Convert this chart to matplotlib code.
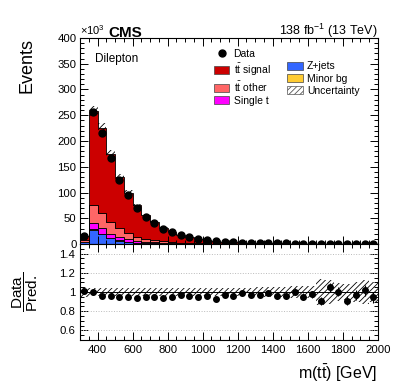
import numpy as np
import matplotlib
matplotlib.use("Agg")
import matplotlib.pyplot as plt
from matplotlib.patches import Patch, Rectangle
from matplotlib.lines import Line2D
from matplotlib.ticker import MultipleLocator, FixedLocator

plt.rcParams['font.family'] = ['Liberation Sans', 'DejaVu Sans']
plt.rcParams['mathtext.fontset'] = 'custom'
plt.rcParams['mathtext.rm'] = 'Liberation Sans'
plt.rcParams['mathtext.it'] = 'Liberation Sans:italic'
plt.rcParams['mathtext.bf'] = 'Liberation Sans:bold'
plt.rcParams['hatch.linewidth'] = 0.6

# bin edges m(tt) in GeV
edges = np.arange(300, 2001, 50)

# events in thousands
data = [16, 257, 216, 167, 124, 95, 70, 53, 40, 30, 22.6, 17.4, 13.2, 10.1,
        7.8, 6.0, 4.6, 3.6, 2.8, 2.25, 1.85, 1.5, 1.22, 1.0, 0.85, 0.72,
        0.62, 0.52, 0.48, 0.42, 0.36, 0.33, 0.31, 0.27]
zjets = [3, 27.7, 19, 11, 6.5, 3.5, 2.5, 1.6, 1.1, 0.8, 0.6, 0.45, 0.33, 0.25,
         0.19, 0.15, 0.11, 0.09, 0.07, 0.055, 0.045, 0.035, 0.03, 0.024, 0.02,
         0.017, 0.015, 0.013, 0.011, 0.01, 0.009, 0.008, 0.007, 0.007]
minor = [0.3, 1, 0.8, 0.6, 0.5, 0.4, 0.3, 0.2, 0.15, 0.12, 0.09, 0.07, 0.05,
         0.04, 0.03, 0.025, 0.02, 0.015, 0.011, 0.009, 0.008, 0.006, 0.005,
         0.004, 0.003, 0.003, 0.002, 0.002, 0.002, 0.002, 0.001, 0.001, 0.001,
         0.001]
single_t = [1.5, 12, 11, 8, 6.5, 5, 3.5, 2.5, 1.8, 1.3, 0.95, 0.7, 0.52, 0.4,
            0.3, 0.24, 0.18, 0.14, 0.1, 0.085, 0.07, 0.055, 0.046, 0.038, 0.03,
            0.027, 0.023, 0.021, 0.016, 0.015, 0.014, 0.012, 0.011, 0.01]
tt_other = [3, 36, 29, 23, 17, 12, 8, 5.5, 3.8, 2.7, 1.9, 1.4, 1.05, 0.8, 0.6,
            0.48, 0.35, 0.28, 0.21, 0.17, 0.14, 0.11, 0.093, 0.076, 0.062,
            0.055, 0.046, 0.042, 0.033, 0.03, 0.029, 0.025, 0.022, 0.021]
tt_signal = [8.0, 181.3, 166.2, 132.4, 100.5, 79.1, 60.7, 46.2, 35.45, 27.08,
             20.26, 15.38, 11.75, 9.11, 6.98, 5.555, 4.11, 3.245, 2.439, 2.011,
             1.644, 1.302, 1.103, 0.905, 0.731, 0.656, 0.55, 0.497, 0.395,
             0.361, 0.343, 0.296, 0.263, 0.247]
# relative uncertainty of the prediction
unc = [0.05, 0.04, 0.04, 0.04, 0.04, 0.04, 0.04, 0.04, 0.04, 0.04, 0.04, 0.04,
       0.04, 0.04, 0.04, 0.04, 0.04, 0.04, 0.045, 0.045, 0.05, 0.055, 0.055,
       0.055, 0.06, 0.06, 0.06, 0.14, 0.12, 0.09, 0.08, 0.1, 0.13, 0.1]

components = [
    ("Z+jets", zjets, "#3366ff"),
    ("Minor bg", minor, "#ffcc33"),
    ("Single t", single_t, "#ff00ff"),
    (r"$\mathrm{t\bar{t}}$ other", tt_other, "#ff6666"),
    (r"$\mathrm{t\bar{t}}$ signal", tt_signal, "#cc0000"),
]

data = np.array(data)
centers = 0.5 * (edges[:-1] + edges[1:])
total = np.sum([np.array(c[1]) for c in components], axis=0)
unc = np.array(unc)
ratio = data / total
ratio_err = np.sqrt(data * 1000) / (total * 1000)
data_err = np.sqrt(data * 1000) / 1000

fig = plt.figure(figsize=(3.99, 3.83), dpi=100)
ax = fig.add_axes([0.2005, 0.3629, 0.7464, 0.5379])
rax = fig.add_axes([0.2005, 0.1123, 0.7464, 0.2506], sharex=ax)

# stacked histogram
base = np.zeros(len(total))
handles = {}
for name, vals, col in components:
    vals = np.array(vals)
    ax.stairs(base + vals, edges, baseline=base, fill=True, facecolor=col,
              edgecolor="black", linewidth=0.6)
    handles[name] = Patch(facecolor=col, edgecolor="#444444", linewidth=0.5)
    base = base + vals

ax.stairs(total * (1 + unc), edges, baseline=total * (1 - unc), fill=True,
          facecolor="none", edgecolor="black", linewidth=0, hatch="//////")
ax.errorbar(centers, data, yerr=data_err, fmt="o", color="black",
            markersize=5, elinewidth=0.8, capsize=0)

ax.set_xlim(300, 2000)
ax.set_ylim(0, 400)
ax.yaxis.set_major_locator(MultipleLocator(50))
ax.yaxis.set_minor_locator(MultipleLocator(10))
ax.xaxis.set_major_locator(MultipleLocator(200))
ax.xaxis.set_minor_locator(MultipleLocator(50))
plt.setp(ax.get_xticklabels(), visible=False)

# ratio panel
rax.stairs(1 + unc, edges, baseline=1 - unc, fill=True, facecolor="none",
           edgecolor="black", linewidth=0, hatch="//////")
for g in [0.6, 0.8, 1.2, 1.4]:
    rax.axhline(g, color="#bbbbbb", linestyle=":", linewidth=0.7)
rax.axhline(1, color="black", linewidth=0.7)
rax.errorbar(centers, ratio, yerr=ratio_err, fmt="o", color="black",
             markersize=4, elinewidth=0.8, capsize=0)
rax.set_ylim(0.5, 1.5)
rax.yaxis.set_major_locator(FixedLocator([0.6, 0.8, 1.0, 1.2, 1.4]))
rax.set_yticklabels(["0.6", "0.8", "1", "1.2", "1.4"])
rax.yaxis.set_minor_locator(MultipleLocator(0.05))

for a in (ax, rax):
    a.tick_params(which="both", direction="in", top=True, right=True,
                  labelsize=8.2, width=0.7)
    a.tick_params(which="major", length=6)
    a.tick_params(which="minor", length=3)
    for s in a.spines.values():
        s.set_linewidth(0.8)
ax.tick_params(axis="y", pad=2.5)

# texts
ax.text(0, 1.005, r"$\times10^{3}$", transform=ax.transAxes, ha="left",
        va="bottom", fontsize=8)
fig.text(108 / 399, 1 - 37 / 383, "CMS", fontsize=11, fontweight="bold",
         ha="left", va="baseline")
fig.text(378 / 399, 1 - 35 / 383, r"138 fb$^{-1}$ (13 TeV)", fontsize=9,
         ha="right", va="baseline")
ax.text(0.05, 0.9, "Dilepton", transform=ax.transAxes, fontsize=8.5,
        ha="left", va="center")
fig.text(27 / 399, 1 - 38 / 383, "Events", rotation=90, ha="center",
         va="top", fontsize=13)
fig.text(25 / 399, 1 - 292 / 383,
         r"$\dfrac{\mathrm{Data}}{\mathrm{Pred.}}$", rotation=90,
         ha="center", va="center", fontsize=11)
fig.text(377 / 399, 1 - 373 / 383, r"m($\mathrm{t\bar{t}}$) [GeV]",
         ha="right", va="center", fontsize=11.5)

# legend
data_h = Line2D([], [], marker="o", color="black", markersize=5,
                linestyle="none")
blank = Rectangle((0, 0), 1, 1, visible=False)
unc_h = Patch(facecolor="white", edgecolor="#555555", hatch="//////",
              linewidth=0.5)
leg_handles = [data_h, handles[r"$\mathrm{t\bar{t}}$ signal"],
               handles[r"$\mathrm{t\bar{t}}$ other"], handles["Single t"],
               blank, handles["Z+jets"], handles["Minor bg"], unc_h]
leg_labels = ["Data", r"$\mathrm{t\bar{t}}$ signal", r"$\mathrm{t\bar{t}}$ other",
              "Single t", "", "Z+jets", "Minor bg", "Uncertainty"]
ax.legend(leg_handles, leg_labels, ncol=2, loc="upper left",
          bbox_to_anchor=(0.435, 0.965), frameon=False, fontsize=7.5,
          handlelength=1.5, handleheight=0.9, labelspacing=0.2,
          handletextpad=0.4, columnspacing=1.6, borderaxespad=0)

fig.savefig("out.png", dpi=100)
